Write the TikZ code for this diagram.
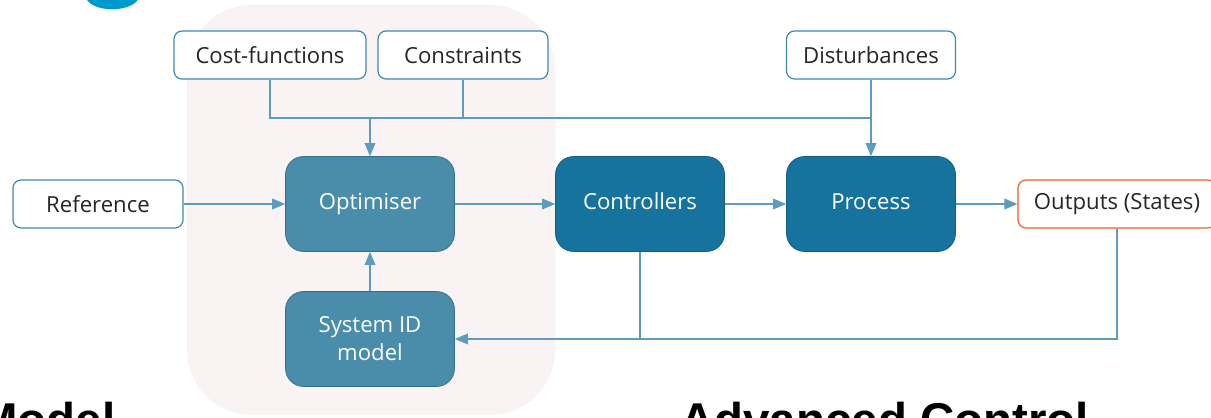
\documentclass[tikz,border=0pt]{standalone}
\usepackage{fontspec}
\setmainfont{Open Sans}
\newfontfamily\headfont{Liberation Sans}
\usepackage{tikz}
\usetikzlibrary{arrows,shapes,positioning}
\definecolor{zonepink}{HTML}{FAF3F3}
\definecolor{optblue}{HTML}{4A8DAB}
\definecolor{darkblue}{HTML}{16739E}
\definecolor{edgeblue}{HTML}{3F88AE}
\definecolor{lineblue}{HTML}{5C9DBF}
\definecolor{outorange}{HTML}{E8602C}
\definecolor{logoblue}{HTML}{0099CC}
\definecolor{textgrey}{HTML}{262626}
\tikzset{
  inbox/.style={draw=edgeblue, fill=white, rounded corners=0.16cm, line width=0.7pt,
    minimum height=0.96cm, text=textgrey, font=\fontsize{12.6}{15}\selectfont},
  lightblock/.style={draw=edgeblue!80!black, fill=optblue, rounded corners=0.36cm,
    minimum width=3.38cm, minimum height=1.9cm, text=white, align=center,
    font=\fontsize{12.6}{16}\selectfont},
  darkblock/.style={lightblock, draw=darkblue!80!black, fill=darkblue}
}
\begin{document}
\begin{tikzpicture}[x=0.02cm, y=-0.02cm]
    \useasboundingbox (0,0) rectangle (1211,418);
    \clip (0,0) rectangle (1211,418);
%the shaded optimisation zone
    \fill[zonepink, rounded corners=1.3cm] (187,5) rectangle (555,415);
%the cut-off logo at the top
    \fill[logoblue] (86,-2) .. controls (92,13) and (132,13) .. (139,-2) -- cycle;

%the input boxes
    \node[inbox, minimum width=3.84cm] (cost) at (270,55) {Cost-functions};
    \node[inbox, minimum width=3.4cm] (cons) at (463,55) {Constraints};
    \node[inbox, minimum width=3.38cm] (dist) at (871,55) {Disturbances};
    \node[inbox, minimum width=3.4cm] (ref) at (98,204) {Reference};
    \node[inbox, draw=outorange, minimum width=3.96cm] (out) at (1117,204) {Outputs (States)};

%the main blocks
    \node[lightblock] (opt) at (370,204) {Optimiser\strut};
    \node[darkblock] (ctrl) at (640,204) {Controllers\strut};
    \node[darkblock] (proc) at (871,204) {Process\strut};
    \node[lightblock] (sysid) at (370,339) {System ID\\model};

%junctions
    \coordinate (topbus) at (dist.south |- 0,118);

%the connectors
    \begin{scope}[every path/.style={draw=lineblue, line width=0.7pt}]
       \draw (cost.south) |- (topbus);
       \draw (cons.south) -- (cons.south |- topbus);
       \draw (ctrl.south) -- (ctrl.south |- sysid.east);
    \end{scope}
    \begin{scope}[every path/.style={draw=lineblue, line width=0.7pt, -triangle 45}]
       \draw (opt.north |- topbus) -- (opt.north);
       \draw (dist.south) -- (proc.north);
       \draw (ref) -- (opt);
       \draw (opt) -- (ctrl);
       \draw (ctrl) -- (proc);
       \draw (proc) -- (out);
       \draw (out.south) |- (sysid.east);
       \draw (sysid) -- (opt);
    \end{scope}

%the cut-off titles below
    \node[anchor=base west, inner sep=0pt, font=\headfont\bfseries\fontsize{27}{30}\selectfont] (mtitle) at (-22,437) {Model};
    \node[anchor=base west, inner sep=0pt, font=\headfont\bfseries\fontsize{27}{30}\selectfont] (ctitle) at (680,437) {Advanced Control};
\end{tikzpicture}
\end{document}
